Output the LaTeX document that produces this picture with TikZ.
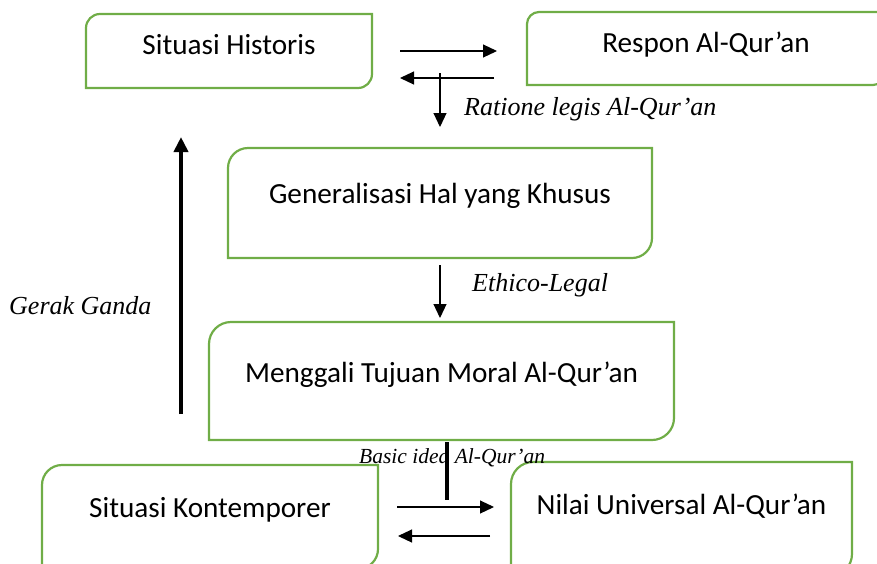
\documentclass[tikz,border=0pt]{standalone}
\usepackage{fontspec}
\setmainfont{Carlito}
\newfontfamily\lblfont{Liberation Serif}
\usepackage{tikz}
\usetikzlibrary{arrows.meta}

\begin{document}
\begin{tikzpicture}[x=1pt, y=-1pt,
  box/.style={inner sep=0pt, outer sep=0pt, text height=20pt, text depth=20pt,
    font=\fontsize{29.2}{34}\selectfont},
  lowbox/.style={box, text depth=13pt},
  greenline/.style={draw={rgb,255:red,112;green,173;blue,71}, line width=2.2pt},
  lbl/.style={anchor=base west, inner sep=0pt, font=\lblfont\itshape\fontsize{26}{30}\selectfont},
  thinarrow/.style={line width=1.1pt, -{Triangle[length=14pt,width=13pt]}},
  thickarrow/.style={line width=4pt, -{Triangle[length=15pt,width=14pt]}}]
  \useasboundingbox (0,0) rectangle (877,563);
  \clip (0,0) rectangle (877,563);

  % boxes
  \node[lowbox, minimum width=286pt, minimum height=74pt] (hist) at (229,51) {Situasi Historis};
  \node[lowbox, minimum width=358pt, minimum height=73pt] (respon) at (706,48.5) {Respon Al-Qur’an};
  \node[box, minimum width=424pt, minimum height=110pt] (general) at (440,203) {Generalisasi Hal yang Khusus};
  \node[box, minimum width=465pt, minimum height=118pt, text depth=18pt] (moral) at (441.5,381) {Menggali Tujuan Moral Al-Qur’an};
  \node[box, minimum width=336pt, minimum height=104pt] (kontemp) at (210,517) {Situasi Kontemporer};
  \node[box, minimum width=341pt, minimum height=114pt, text depth=30pt] (nilai) at (681.5,519) {Nilai Universal Al-Qur’an};

  \foreach \n/\r in {hist/14, respon/12, general/20, moral/22, kontemp/20, nilai/22}
    \draw[greenline] (\n.north east) -- ([yshift=\r pt]\n.south east)
      arc[start angle=0, end angle=-90, radius=\r pt] -- (\n.south west)
      -- ([yshift=-\r pt]\n.north west)
      arc[start angle=180, end angle=90, radius=\r pt] -- cycle;

  % labels
  \node[lbl] (rationelbl) at (464,115) {Ratione legis Al-Qur’an};
  \node[lbl] (ethicolbl) at (472,291) {Ethico-Legal};
  \node[lbl] (geraklbl) at (9,314) {Gerak Ganda};
  \node[lbl, font=\lblfont\itshape\fontsize{21.5}{25}\selectfont] (basiclbl) at (359,463) {Basic idea Al-Qur’an};

  \coordinate (ratiotop) at (440,73);
  \coordinate (gerakbot) at (181,414);
  \coordinate (geraktop) at (181,137);
  \coordinate (ideatop) at (447,442);
  \coordinate (ideabot) at (447,500);

  % arrows
  \draw[thinarrow, shorten <=28pt, shorten >=30pt] (hist.east) -- (hist.east -| respon.west);
  \draw[thinarrow, shorten <=33pt, shorten >=28pt] ([yshift=-27pt]hist.east -| respon.west) -- ([yshift=-27pt]hist.east);
  \draw[thinarrow, shorten >=21pt] (ratiotop) -- (general.north);
  \draw[thinarrow, shorten <=7pt, shorten >=4pt] (general.south) -- (general.south |- moral.north);
  \draw[thickarrow] (gerakbot) -- (geraktop);
  \draw[line width=4pt] (ideatop) -- (ideabot);
  \draw[thinarrow, shorten <=19pt, shorten >=17pt] ([yshift=10pt]kontemp.east) -- ([yshift=10pt]kontemp.east -| nilai.west);
  \draw[thinarrow, shorten <=21pt, shorten >=20pt] ([yshift=-19pt]kontemp.east -| nilai.west) -- ([yshift=-19pt]kontemp.east);
\end{tikzpicture}
\end{document}
